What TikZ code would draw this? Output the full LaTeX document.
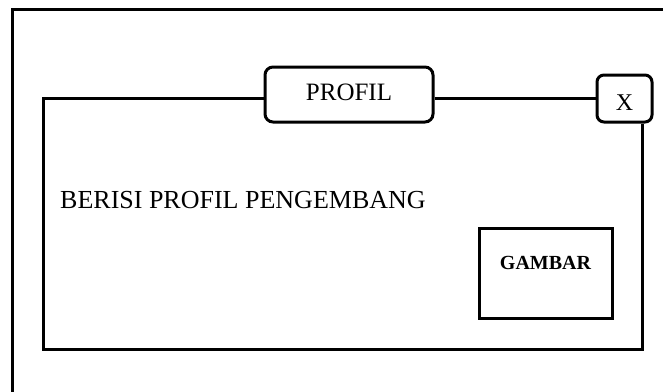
\documentclass[tikz,border=0pt]{standalone}
\usepackage{fontspec}
\setmainfont{Liberation Serif}
\begin{document}
\begin{tikzpicture}[x=1pt,y=-1pt,
  frame/.style={line width=3pt, line join=miter},
  tab/.style={draw, line width=3pt, rounded corners=8pt, fill=white, inner sep=0pt, align=center},
  plainbox/.style={draw, line width=3pt, fill=white, inner sep=0pt, align=center}]
  \useasboundingbox (0,0) rectangle (663,391);
  % outer window, running past the page edges on the right and bottom
  \draw[frame] (12,420) -- (12,9) -- (700,9);
  % dialog panel corners
  \coordinate (tl) at (43,98);
  \coordinate (br) at (642,349);
  % title tab and close button
  \node[tab, minimum width=168pt, text height=33pt, text depth=22pt,
        font=\fontsize{25}{28}\selectfont] (profil) at (349,94.5) {PROFIL};
  \node[tab, rounded corners=7pt, minimum width=55pt, text height=35pt, text depth=12pt,
        font=\fontsize{24}{28}\selectfont] (xbtn) at (624.5,98.5) {X};
  % dialog panel outline
  \draw[frame] (profil.west |- tl) -- (tl) -- (tl |- br) -- (br) -- (xbtn.south -| br);
  \draw[frame] (profil.east |- tl) -- (xbtn.west |- tl);
  % content
  \node[anchor=base west, inner sep=0pt, font=\fontsize{26}{30}\selectfont] (desc)
        at (60,208) {BERISI PROFIL PENGEMBANG};
  \node[plainbox, minimum width=133pt, text height=41pt, text depth=49pt,
        font=\bfseries\fontsize{20}{24}\selectfont] (gambar) at (545.5,273) {GAMBAR};
\end{tikzpicture}
\end{document}
